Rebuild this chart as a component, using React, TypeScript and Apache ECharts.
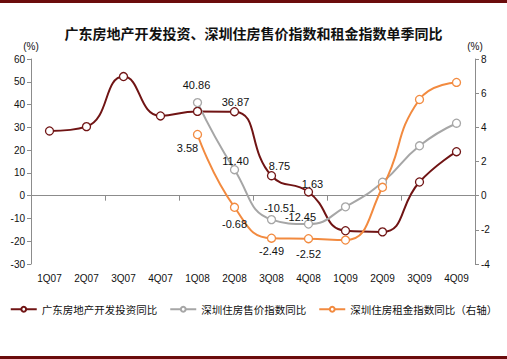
import React, { useEffect, useRef } from "react";
import * as echarts from "echarts";

const categories = ["1Q07", "2Q07", "3Q07", "4Q07", "1Q08", "2Q08", "3Q08", "4Q08", "1Q09", "2Q09", "3Q09", "4Q09"];
const gdInvest = [28.4, 30.3, 52.3, 35.0, 37.0, 36.87, 8.75, 1.63, -15.4, -15.9, 6.0, 19.3];
const szPrice = [null, null, null, null, 40.86, 11.4, -10.51, -12.45, -4.9, 5.9, 21.9, 31.8];
const szRent = [null, null, null, null, 3.58, -0.68, -2.49, -2.52, -2.6, 0.49, 5.63, 6.63];
const leftTicks = { min: -30, max: 60, interval: 10 };
const rightTicks = { min: -4, max: 8, interval: 2 };
const seriesNames = ["广东房地产开发投资同比", "深圳住房售价指数同比", "深圳住房租金指数同比（右轴）"];
const title = "广东房地产开发投资、深圳住房售价指数和租金指数单季同比";

type LabelCfg = { position: string; distance: number; offset: [number, number] };
const gdLabels: Record<number, LabelCfg> = {
  5: { position: "top", distance: 0, offset: [1, 0] },
  6: { position: "top", distance: 0, offset: [8, 0] },
  7: { position: "top", distance: 0, offset: [4, 2] },
};
const priceLabels: Record<number, LabelCfg> = {
  4: { position: "top", distance: 5, offset: [-1, -2] },
  5: { position: "top", distance: 0, offset: [1, 1] },
  6: { position: "top", distance: 0, offset: [8, -1] },
  7: { position: "top", distance: 0, offset: [-8, 3] },
};
const rentLabels: Record<number, LabelCfg> = {
  4: { position: "bottom", distance: 5, offset: [-10, -2] },
  5: { position: "bottom", distance: 5, offset: [0, 2] },
  6: { position: "bottom", distance: 3, offset: [0, 0] },
  7: { position: "bottom", distance: 5, offset: [0, 0] },
};

const colors = ["#701414", "#a6a6a6", "#f28a3f"];

function buildData(vals: (number | null)[], labels: Record<number, LabelCfg>) {
  return vals.map((v, i) => {
    const l = labels[i];
    if (v === null) return { value: null };
    if (!l) return { value: v };
    return {
      value: v,
      label: {
        show: true,
        position: l.position,
        distance: l.distance,
        offset: l.offset,
        formatter: (p: any) => Number(p.value).toFixed(2),
        fontSize: 11,
        color: "#111",
        fontFamily: "Liberation Sans, Arial, sans-serif",
      },
    };
  });
}

export default function App() {
  const ref = useRef<HTMLDivElement>(null);
  useEffect(() => {
    if (!ref.current) return;
    const chart = echarts.init(ref.current, undefined, { renderer: "svg" });
    const axisLabelStyle = { fontSize: 10, color: "#111", fontFamily: "Liberation Sans, Arial, sans-serif" };
    const mkSeries = (name: string, data: any[], color: string, yAxisIndex: number) => ({
      name,
      type: "line",
      smooth: 0.5,
      xAxisIndex: 0,
      yAxisIndex,
      data,
      symbol: "circle",
      symbolSize: 8,
      connectNulls: false,
      lineStyle: { color, width: 2 },
      itemStyle: { color: "#fff", borderColor: color, borderWidth: 1.3 },
      emphasis: { disabled: true },
    });
    chart.setOption({
      animation: false,
      backgroundColor: "#fff",
      title: {
        text: title,
        left: "center",
        top: 21,
        textStyle: { fontSize: 14, fontWeight: "bold", color: "#111", fontFamily: "Noto Sans CJK SC" },
      },
      graphic: [
        { type: "rect", shape: { x: 0, y: 0, width: 507, height: 3 }, style: { fill: "#6b0c0c" } },
        { type: "rect", shape: { x: 0, y: 356, width: 507, height: 3 }, style: { fill: "#6b0c0c" } },
      ],
      legend: {
        top: 299,
        left: "center",
        itemWidth: 26,
        itemHeight: 6,
        itemGap: 12,
        textStyle: { fontSize: 10.5, color: "#111", fontFamily: "Noto Sans CJK SC" },
        data: seriesNames,
      },
      grid: { left: 31, right: 32, top: 59, bottom: 95 },
      xAxis: [
        {
          type: "category",
          data: categories,
          boundaryGap: true,
          position: "bottom",
          axisLine: { show: false, onZero: false },
          axisTick: { show: false },
          axisLabel: { ...axisLabelStyle, margin: 9, interval: 0 },
        },
        {
          type: "category",
          data: categories,
          boundaryGap: true,
          position: "top",
          axisLine: { show: true, onZero: true, lineStyle: { color: "#8c8c8c", width: 1 } },
          axisTick: { show: true, inside: true, length: 5, lineStyle: { color: "#8c8c8c" } },
          axisLabel: { show: false },
        },
      ],
      yAxis: [
        {
          type: "value",
          ...leftTicks,
          name: "(%)",
          nameLocation: "end",
          nameGap: 8,
          nameTextStyle: { ...axisLabelStyle, align: "center" },
          axisLine: { show: true, lineStyle: { color: "#8c8c8c" } },
          axisTick: { show: true, length: 4, lineStyle: { color: "#8c8c8c" } },
          axisLabel: { ...axisLabelStyle, margin: 6 },
          splitLine: { show: false },
        },
        {
          type: "value",
          ...rightTicks,
          name: "(%)",
          nameLocation: "end",
          nameGap: 8,
          nameTextStyle: { ...axisLabelStyle, align: "center" },
          axisLine: { show: true, lineStyle: { color: "#8c8c8c" } },
          axisTick: { show: true, length: 4, lineStyle: { color: "#8c8c8c" } },
          axisLabel: { ...axisLabelStyle, margin: 6 },
          splitLine: { show: false },
        },
      ],
      series: [
        mkSeries(seriesNames[0], buildData(gdInvest, gdLabels), colors[0], 0),
        mkSeries(seriesNames[1], buildData(szPrice, priceLabels), colors[1], 0),
        mkSeries(seriesNames[2], buildData(szRent, rentLabels), colors[2], 1),
      ],
    });
    return () => chart.dispose();
  }, []);
  return <div ref={ref} style={{ width: 507, height: 359, position: "absolute", left: 0, top: 0 }} />;
}
